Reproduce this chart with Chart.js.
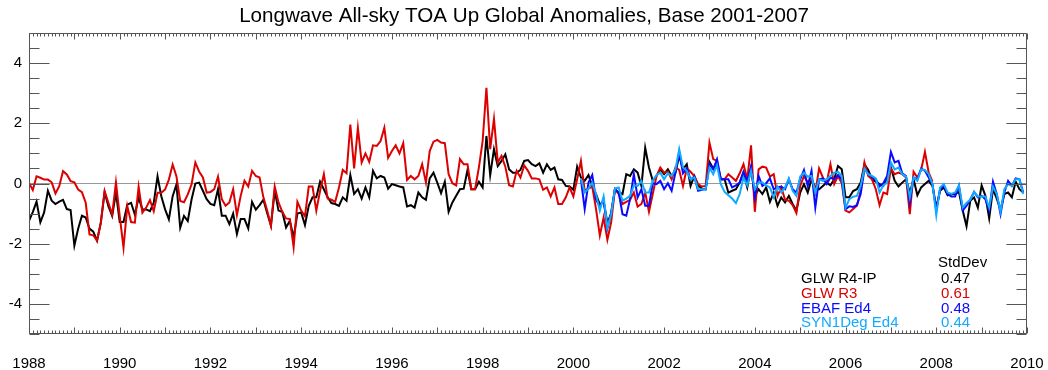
<!DOCTYPE html>
<html lang="en">
<head>
<meta charset="UTF-8">
<title>Longwave All-sky TOA Up Global Anomalies</title>
<script src="https://cdn.jsdelivr.net/npm/chart.js"></script>
<style>
    body { margin: 0; background: #fff; }
    #wrap { width: 1048px; height: 370px; }
</style>
</head>
<body>
<div id="wrap"><canvas id="lwChart" width="1048" height="370"></canvas></div>
<script>
    // monthly anomalies, one row per year
    const glwR4Start = 1988;
    const glwR4 = [
        -1.24, -0.95, -0.6, -1.29, -0.96, -0.24, -0.57, -0.68, -0.6, -0.54, -0.85, -0.88,
        -2.06, -1.5, -1.07, -1.13, -1.5, -1.6, -1.9, -1.3, -0.29, -0.75, -1.08, -0.3,
        -1.28, -1.28, -0.7, -0.64, -1.03, -0.47, -0.86, -0.86, -0.92, -0.64, 0.24, -0.42,
        -0.86, -1.19, -0.42, -0.03, -1.47, -1.08, -1.25, -0.53, 0.0, 0.03, -0.24, -0.52,
        -0.68, -0.72, -0.19, -1.07, -1.07, -1.35, -1.0, -1.68, -1.18, -1.18, -1.49, -0.61,
        -0.87, -0.72, -0.54, -0.98, -1.4, -0.24, -0.9, -0.94, -1.46, -1.24, -1.79, -1.0,
        -0.96, -1.38, -0.74, -0.46, -0.46, 0.06, -0.19, -0.46, -0.65, -0.68, -0.74, -0.46,
        -0.57, 0.28, -0.35, -0.19, -0.5, -0.13, -0.46, 0.42, 0.17, 0.25, 0.2, -0.17,
        -0.02, -0.06, -0.1, -0.13, -0.76, -0.72, -0.8, -0.3, -0.46, -0.54, 0.17, 0.36,
        0.03, -0.32, 0.06, -0.94, -0.63, -0.41, -0.19, -0.17, 0.45, -0.19, -0.19, 0.06,
        -0.13, 1.58, 0.28, 1.14, 0.58, 0.75, 0.97, 0.47, 0.36, 0.36, 0.45, 0.75,
        0.78, 0.64, 0.58, 0.67, 0.36, 0.64, 0.45, 0.53, 0.14, 0.12, -0.08, -0.1,
        -0.21, 0.56, 0.2, 0.09, 0.28, -0.08, -0.35, -0.7, -0.6, -1.3, -1.0, -0.19,
        -0.3, -0.35, 0.31, 0.25, 0.47, 0.36, -0.08, 1.19, 0.53, 0.09, 0.25, 0.47,
        0.31, 0.47, 0.25, 0.36, 0.92, 0.47, 0.64, -0.08, 0.25, -0.06, -0.17, -0.19,
        0.72, 0.5, 0.64, 0.14, 0.14, -0.3, -0.24, -0.19, 0.03, 0.36, -0.13, 0.53,
        -0.41, -0.19, -0.35, -0.13, -0.61, -0.3, -0.74, -0.46, -0.63, -0.41, -0.68, -0.9,
        -0.3, -0.02, -0.3, 0.14, -0.13, -0.19, -0.08, 0.03, -0.06, 0.14, 0.58, 0.47,
        -0.46, -0.46, -0.25, -0.19, 0.03, 0.64, 0.45, 0.14, 0.06, -0.02, -0.08, 0.2,
        0.53, 0.09, -0.1, 0.03, 0.14, -0.3, 0.14, -0.39, -0.13, -0.02, 0.09, -0.08,
        -0.8, -0.24, -0.13, -0.39, -0.35, -0.35, -0.28, -0.9, -1.42, -0.57, -0.46, -0.8,
        -0.06, -0.41, -1.16, -0.19, -0.5, -0.87, -0.35, -0.3, -0.46, 0.06, -0.19, -0.3
    ];

    const glwR3Start = 1988;
    const glwR3 = [
        0.02, -0.22, 0.24, 0.19, 0.13, 0.13, 0.04, -0.33, -0.09, 0.41, 0.3, 0.08,
        0.04, -0.2, -0.29, -0.64, -1.69, -1.72, -1.9, -1.3, -0.25, -0.64, -1.03, 0.04,
        -1.08, -2.13, -0.75, -1.28, -1.3, -0.11, -0.97, -0.8, -0.55, -0.92, -0.31, -0.31,
        -0.2, 0.13, 0.63, 0.24, -0.58, -0.62, -0.36, -0.03, 0.7, 0.4, 0.2, -0.3,
        -0.28, -0.19, 0.23, -0.52, -0.74, -0.63, -0.19, -1.05, -0.41, 0.09, -0.1, 0.42,
        0.25, 0.2, -0.46, -0.9, -1.4, -0.1, -0.63, -0.94, -1.16, -1.18, -2.12, -0.61,
        -0.9, -1.09, -0.1, -0.1, -0.9, -0.24, 0.31, -0.5, -0.54, -0.61, -0.13, 0.45,
        0.34, 1.96, 0.5, 1.85, 0.7, 1.0, 0.72, 1.27, 1.25, 1.41, 1.85, 0.85,
        1.08, 1.27, 1.0, 1.34, 0.12, 0.25, 0.14, 0.25, 0.64, 0.03, 1.08, 1.39,
        1.45, 1.36, 1.34, 0.31, 0.01, -0.06, 0.81, 0.64, 0.64, -0.19, -0.19, 0.53,
        1.41, 3.18, 1.14, 2.15, 0.7, 0.92, 0.56, -0.06, -0.1, 0.42, 0.2, 0.6,
        0.42, 0.17, 0.17, 0.14, -0.21, -0.13, -0.43, -0.13, -0.68, -0.68, -0.46, -0.13,
        -0.43, 0.14, 0.75, -0.24, -0.17, -0.1, -0.85, -1.73, -1.13, -1.87, -1.29, -0.19,
        -0.35, -0.68, -0.61, -0.54, -0.3, -0.77, -0.68, -0.3, -0.94, -0.35, 0.25, 0.53,
        0.36, 0.39, 0.14, 0.53, 0.45, -0.08, 0.5, 0.39, 0.25, -0.02, -0.1, -0.08,
        1.36, 0.81, 0.75, 0.14, 0.14, 0.31, 0.2, 0.09, 0.34, 0.64, 0.14, 1.27,
        -0.94, 0.47, 0.56, 0.53, 0.23, 0.31, -0.41, -0.13, -0.54, -0.57, -0.72, -0.98,
        -0.08, 0.25, 0.03, 0.17, -0.3, 0.5, 0.2, 0.03, 0.64, -0.02, 0.25, 0.01,
        -0.9, -0.96, -0.85, -0.74, -0.24, 0.7, 0.25, 0.14, -0.19, -0.72, -0.3, -0.35,
        0.5, 0.31, 0.36, 0.31, 0.2, -1.02, 0.39, 0.2, 0.45, 1.05, 0.36, 0.06
    ];

    // CERES products start in March 2000
    const ebafStart = 2000 + 2 / 12;
    const ebaf = [
        0.14, -0.85, 0.03, 0.28, -0.54, -0.76, -0.54, -1.49, -0.96, -0.19,
        -0.3, -1.02, -1.07, -0.52, 0.31, -0.46, -0.19, -0.74, -0.74, 0.01, -0.02, 0.09,
        -0.19, 0.01, -0.24, 0.36, 1.05, 0.34, 0.5, 0.14, 0.23, -0.24, -0.21, -0.19,
        0.64, 0.47, 0.81, 0.14, 0.14, 0.14, -0.13, -0.06, 0.03, 0.39, 0.09, 0.56,
        -0.46, 0.25, -0.08, 0.01, 0.17, -0.19, -0.13, -0.1, -0.19, 0.14, -0.19, -0.3,
        0.14, 0.45, -0.08, 0.42, -0.8, 0.14, 0.17, -0.02, 0.2, 0.14, 0.28, 0.14,
        -0.85, -0.76, -0.78, -0.72, -0.35, 0.47, 0.34, 0.2, 0.14, -0.1, 0.01, 0.25,
        1.05, 0.7, 0.75, 0.34, 0.25, -0.63, 0.2, 0.14, 0.5, 0.42, 0.2, -0.02,
        -0.9, -0.19, -0.06, -0.35, -0.43, -0.43, -0.08, -0.9, -0.74, -0.54, -0.28, -0.46,
        -0.41, -0.52, -0.9, 0.06, -0.35, -1.02, -0.3, 0.09, -0.08, 0.17, 0.14, -0.3
    ];

    const synStart = 2000 + 2 / 12;
    const syn1deg = [
        0.17, -0.3, -0.17, 0.03, -0.35, -0.9, -0.43, -1.46, -1.02, -0.17,
        -0.13, -0.57, -0.5, -0.41, -0.06, -0.08, 0.09, -0.3, -0.3, 0.09, 0.28, 0.36,
        0.14, 0.34, 0.25, 0.47, 1.14, 0.53, 0.42, 0.14, 0.2, -0.19, -0.19, -0.19,
        0.53, 0.31, 0.61, -0.02, -0.28, -0.39, -0.5, -0.65, -0.35, 0.2, -0.06, 0.42,
        -0.19, 0.03, 0.03, -0.06, -0.13, -0.46, -0.1, -0.3, -0.13, 0.17, -0.24, -0.41,
        0.23, 0.36, 0.23, 0.25, -0.3, 0.14, 0.09, 0.14, 0.25, 0.36, 0.39, 0.25,
        -0.8, -0.52, -0.44, -0.41, -0.08, 0.5, 0.31, 0.25, 0.17, -0.3, -0.06, 0.03,
        0.7, 0.47, 0.53, 0.31, 0.23, -0.46, 0.2, 0.09, 0.47, 0.45, 0.31, -0.02,
        -1.05, -0.13, -0.02, -0.3, -0.35, -0.3, -0.06, -0.8, -0.65, -0.54, -0.28, -0.43,
        -0.43, -0.43, -0.8, -0.1, -0.35, -0.94, -0.19, -0.02, -0.08, 0.14, 0.14, -0.35
    ];

    const xTicks = [1988, 1990, 1992, 1994, 1996, 1998, 2000, 2002, 2004, 2006, 2008, 2010];
    const yTicks = [-4, -2, 0, 2, 4];
    const seriesNames = ['GLW R4-IP', 'GLW R3', 'EBAF Ed4', 'SYN1Deg Ed4'];
    const stdDevs = ['0.47', '0.61', '0.48', '0.44'];

    const colors = ['#000000', '#dd0000', '#0a0aff', '#10aaff'];
    const FONT = '"Liberation Sans", Arial, Helvetica, sans-serif';

    const monthly = (start, vals) => vals.map((v, i) => ({x: start + i / 12, y: v}));

    const series = [
        monthly(glwR4Start, glwR4),
        monthly(glwR3Start, glwR3),
        monthly(ebafStart, ebaf),
        monthly(synStart, syn1deg)
    ];

    // inward ticks, box frame and StdDev table
    const frameTicks = {
        id: 'frameTicks',
        afterDraw(chart) {
            const {ctx, chartArea: a, scales: {x, y}} = chart;
            ctx.save();
            ctx.strokeStyle = '#555';
            ctx.lineWidth = 1;
            ctx.beginPath();
            const L = Math.round(a.left) + 0.5, R = Math.round(a.right) - 0.5;
            const T = Math.round(a.top) + 0.5, B = Math.round(a.bottom) - 0.5;
            ctx.rect(L, T, R - L, B - T);
            for (let m = 0; m <= (x.max - x.min) * 12; m++) {
                const px = Math.round(x.getPixelForValue(x.min + m / 12)) + 0.5;
                const len = m % 12 === 0 ? 6 : 3;
                ctx.moveTo(px, T); ctx.lineTo(px, T + len);
                ctx.moveTo(px, B); ctx.lineTo(px, B - len);
            }
            for (let k = 0; k <= (y.max - y.min) * 2; k++) {
                const v = y.min + k / 2;
                const py = Math.round(y.getPixelForValue(v)) + 0.5;
                const len = v % 2 === 0 ? 20 : 10;
                ctx.moveTo(L, py); ctx.lineTo(L + len, py);
                ctx.moveTo(R, py); ctx.lineTo(R - len, py);
            }
            ctx.stroke();

            ctx.font = '15px ' + FONT;
            ctx.textBaseline = 'middle';
            ctx.textAlign = 'left';
            ctx.fillStyle = '#000';
            ctx.fillText('StdDev', 938, 263);
            seriesNames.forEach((name, i) => {
                const ty = 279 + i * 14.7;
                ctx.fillStyle = colors[i];
                ctx.fillText(name, 801, ty);
                ctx.fillText(stdDevs[i], 941, ty);
            });
            ctx.restore();
        }
    };

    new Chart(document.getElementById('lwChart'), {
        type: 'line',
        data: {
            datasets: series.map((pts, i) => ({
                label: seriesNames[i],
                data: pts,
                borderColor: colors[i],
                borderWidth: 2,
                pointRadius: 0,
                tension: 0,
                fill: false,
                order: 3 - i
            }))
        },
        options: {
            responsive: false,
            animation: false,
            events: [],
            layout: {padding: 0},
            plugins: {
                legend: {display: false},
                tooltip: {enabled: false},
                title: {
                    display: true,
                    text: 'Longwave All-sky TOA Up Global Anomalies, Base 2001-2007',
                    color: '#000',
                    font: {family: FONT, size: 20.6, weight: 'normal', lineHeight: 1.2},
                    padding: {top: 4, bottom: 4.3}
                }
            },
            scales: {
                x: {
                    type: 'linear',
                    min: 1988,
                    max: 2010,
                    afterBuildTicks: s => { s.ticks = xTicks.map(v => ({value: v})); },
                    // reserve 21px right of the plot box, like the original
                    afterFit: s => { s.height = 36; s.paddingLeft = 0; s.paddingRight = 21; },
                    grid: {display: false},
                    border: {display: false},
                    ticks: {
                        color: '#000',
                        font: {family: FONT, size: 15},
                        padding: 13,
                        maxRotation: 0,
                        callback: v => String(v)
                    }
                },
                y: {
                    min: -5,
                    max: 5,
                    afterBuildTicks: s => { s.ticks = yTicks.map(v => ({value: v})); },
                    afterFit: s => { s.width = 29; },
                    grid: {
                        drawTicks: false,
                        color: c => (c.tick && c.tick.value === 0 ? '#999' : 'transparent'),
                        lineWidth: 1
                    },
                    border: {display: false},
                    ticks: {
                        color: '#000',
                        font: {family: FONT, size: 15},
                        padding: 7
                    }
                }
            }
        },
        plugins: [frameTicks]
    });
</script>
</body>
</html>
